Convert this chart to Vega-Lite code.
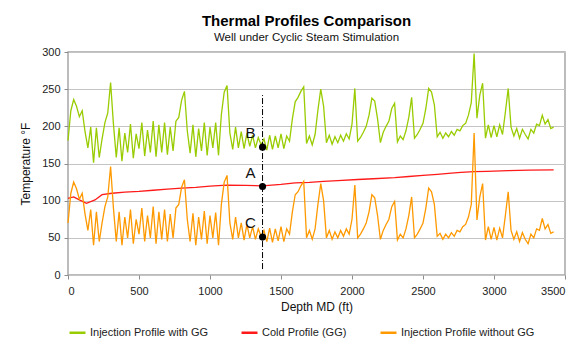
{
  "$schema": "https://vega.github.io/schema/vega-lite/v6.json",
  "width": 497,
  "height": 223,
  "autosize": {"type": "none"},
  "padding": {"left": 68, "top": 52, "right": 20, "bottom": 68},
  "background": "white",
  "title": {
    "text": "Thermal Profiles Comparison",
    "subtitle": "Well under Cyclic Steam Stimulation",
    "fontSize": 15,
    "fontWeight": "bold",
    "font": "Liberation Sans",
    "subtitleFont": "Liberation Sans",
    "subtitleFontSize": 11.5,
    "subtitleColor": "#111",
    "subtitlePadding": 3,
    "color": "#000",
    "anchor": "middle",
    "dx": -10,
    "offset": 3
  },
  "datasets": {
    "lines": [
      {"d":0,"t":181,"s":"G"},{"d":20,"t":221,"s":"G"},{"d":40,"t":236,"s":"G"},{"d":60,"t":227,"s":"G"},{"d":80,"t":213,"s":"G"},{"d":100,"t":221,"s":"G"},{"d":120,"t":193,"s":"G"},{"d":140,"t":171,"s":"G"},{"d":160,"t":199,"s":"G"},{"d":180,"t":151,"s":"G"},{"d":200,"t":198,"s":"G"},{"d":220,"t":158,"s":"G"},{"d":240,"t":183,"s":"G"},{"d":260,"t":205,"s":"G"},{"d":280,"t":218,"s":"G"},{"d":300,"t":259,"s":"G"},{"d":320,"t":203,"s":"G"},{"d":340,"t":158,"s":"G"},{"d":360,"t":198,"s":"G"},{"d":380,"t":153,"s":"G"},{"d":400,"t":191,"s":"G"},{"d":420,"t":165,"s":"G"},{"d":440,"t":203,"s":"G"},{"d":460,"t":157,"s":"G"},{"d":480,"t":190,"s":"G"},{"d":500,"t":170,"s":"G"},{"d":520,"t":205,"s":"G"},{"d":540,"t":160,"s":"G"},{"d":560,"t":195,"s":"G"},{"d":580,"t":165,"s":"G"},{"d":600,"t":207,"s":"G"},{"d":620,"t":159,"s":"G"},{"d":640,"t":202,"s":"G"},{"d":660,"t":165,"s":"G"},{"d":680,"t":205,"s":"G"},{"d":700,"t":162,"s":"G"},{"d":720,"t":199,"s":"G"},{"d":740,"t":167,"s":"G"},{"d":760,"t":207,"s":"G"},{"d":780,"t":212,"s":"G"},{"d":800,"t":235,"s":"G"},{"d":820,"t":247,"s":"G"},{"d":840,"t":194,"s":"G"},{"d":860,"t":164,"s":"G"},{"d":880,"t":202,"s":"G"},{"d":900,"t":159,"s":"G"},{"d":920,"t":197,"s":"G"},{"d":940,"t":167,"s":"G"},{"d":960,"t":205,"s":"G"},{"d":980,"t":161,"s":"G"},{"d":1000,"t":199,"s":"G"},{"d":1020,"t":171,"s":"G"},{"d":1040,"t":205,"s":"G"},{"d":1060,"t":161,"s":"G"},{"d":1080,"t":216,"s":"G"},{"d":1100,"t":246,"s":"G"},{"d":1120,"t":255,"s":"G"},{"d":1140,"t":191,"s":"G"},{"d":1160,"t":169,"s":"G"},{"d":1180,"t":199,"s":"G"},{"d":1200,"t":171,"s":"G"},{"d":1220,"t":193,"s":"G"},{"d":1240,"t":170,"s":"G"},{"d":1260,"t":191,"s":"G"},{"d":1280,"t":173,"s":"G"},{"d":1300,"t":188,"s":"G"},{"d":1320,"t":171,"s":"G"},{"d":1340,"t":185,"s":"G"},{"d":1360,"t":175,"s":"G"},{"d":1380,"t":183,"s":"G"},{"d":1400,"t":168,"s":"G"},{"d":1420,"t":188,"s":"G"},{"d":1440,"t":169,"s":"G"},{"d":1460,"t":187,"s":"G"},{"d":1480,"t":171,"s":"G"},{"d":1500,"t":190,"s":"G"},{"d":1520,"t":170,"s":"G"},{"d":1540,"t":187,"s":"G"},{"d":1560,"t":180,"s":"G"},{"d":1580,"t":210,"s":"G"},{"d":1600,"t":233,"s":"G"},{"d":1620,"t":239,"s":"G"},{"d":1640,"t":247,"s":"G"},{"d":1660,"t":253,"s":"G"},{"d":1680,"t":177,"s":"G"},{"d":1700,"t":187,"s":"G"},{"d":1720,"t":175,"s":"G"},{"d":1740,"t":189,"s":"G"},{"d":1760,"t":222,"s":"G"},{"d":1780,"t":250,"s":"G"},{"d":1800,"t":227,"s":"G"},{"d":1820,"t":178,"s":"G"},{"d":1840,"t":188,"s":"G"},{"d":1860,"t":176,"s":"G"},{"d":1880,"t":186,"s":"G"},{"d":1900,"t":178,"s":"G"},{"d":1920,"t":188,"s":"G"},{"d":1940,"t":180,"s":"G"},{"d":1960,"t":190,"s":"G"},{"d":1980,"t":183,"s":"G"},{"d":2000,"t":203,"s":"G"},{"d":2020,"t":251,"s":"G"},{"d":2040,"t":180,"s":"G"},{"d":2060,"t":185,"s":"G"},{"d":2080,"t":192,"s":"G"},{"d":2100,"t":200,"s":"G"},{"d":2120,"t":215,"s":"G"},{"d":2140,"t":238,"s":"G"},{"d":2160,"t":234,"s":"G"},{"d":2180,"t":210,"s":"G"},{"d":2200,"t":178,"s":"G"},{"d":2220,"t":192,"s":"G"},{"d":2240,"t":200,"s":"G"},{"d":2260,"t":207,"s":"G"},{"d":2280,"t":224,"s":"G"},{"d":2300,"t":231,"s":"G"},{"d":2320,"t":179,"s":"G"},{"d":2340,"t":187,"s":"G"},{"d":2360,"t":182,"s":"G"},{"d":2380,"t":194,"s":"G"},{"d":2400,"t":212,"s":"G"},{"d":2420,"t":239,"s":"G"},{"d":2440,"t":184,"s":"G"},{"d":2460,"t":189,"s":"G"},{"d":2480,"t":196,"s":"G"},{"d":2500,"t":204,"s":"G"},{"d":2520,"t":224,"s":"G"},{"d":2540,"t":251,"s":"G"},{"d":2560,"t":246,"s":"G"},{"d":2580,"t":229,"s":"G"},{"d":2600,"t":186,"s":"G"},{"d":2620,"t":192,"s":"G"},{"d":2640,"t":184,"s":"G"},{"d":2660,"t":191,"s":"G"},{"d":2680,"t":186,"s":"G"},{"d":2700,"t":193,"s":"G"},{"d":2720,"t":188,"s":"G"},{"d":2740,"t":196,"s":"G"},{"d":2760,"t":194,"s":"G"},{"d":2780,"t":201,"s":"G"},{"d":2800,"t":204,"s":"G"},{"d":2820,"t":215,"s":"G"},{"d":2840,"t":232,"s":"G"},{"d":2860,"t":298,"s":"G"},{"d":2880,"t":211,"s":"G"},{"d":2900,"t":242,"s":"G"},{"d":2920,"t":258,"s":"G"},{"d":2940,"t":184,"s":"G"},{"d":2960,"t":202,"s":"G"},{"d":2980,"t":185,"s":"G"},{"d":3000,"t":201,"s":"G"},{"d":3020,"t":186,"s":"G"},{"d":3040,"t":202,"s":"G"},{"d":3060,"t":189,"s":"G"},{"d":3080,"t":219,"s":"G"},{"d":3100,"t":251,"s":"G"},{"d":3120,"t":199,"s":"G"},{"d":3140,"t":187,"s":"G"},{"d":3160,"t":197,"s":"G"},{"d":3180,"t":184,"s":"G"},{"d":3200,"t":196,"s":"G"},{"d":3220,"t":189,"s":"G"},{"d":3240,"t":183,"s":"G"},{"d":3260,"t":196,"s":"G"},{"d":3280,"t":191,"s":"G"},{"d":3300,"t":203,"s":"G"},{"d":3320,"t":201,"s":"G"},{"d":3340,"t":215,"s":"G"},{"d":3360,"t":203,"s":"G"},{"d":3380,"t":209,"s":"G"},{"d":3400,"t":197,"s":"G"},{"d":3420,"t":199,"s":"G"},
      {"d":0,"t":103,"s":"R"},{"d":40,"t":105,"s":"R"},{"d":80,"t":101,"s":"R"},{"d":130,"t":96.5,"s":"R"},{"d":190,"t":101,"s":"R"},{"d":240,"t":108,"s":"R"},{"d":310,"t":110,"s":"R"},{"d":400,"t":111.5,"s":"R"},{"d":500,"t":112.5,"s":"R"},{"d":600,"t":114,"s":"R"},{"d":700,"t":115.5,"s":"R"},{"d":800,"t":117,"s":"R"},{"d":900,"t":118,"s":"R"},{"d":1000,"t":119.5,"s":"R"},{"d":1120,"t":121,"s":"R"},{"d":1250,"t":120.5,"s":"R"},{"d":1370,"t":120,"s":"R"},{"d":1500,"t":122,"s":"R"},{"d":1600,"t":124,"s":"R"},{"d":1700,"t":124.5,"s":"R"},{"d":1800,"t":126,"s":"R"},{"d":1900,"t":127,"s":"R"},{"d":2040,"t":128.5,"s":"R"},{"d":2150,"t":129.5,"s":"R"},{"d":2300,"t":131,"s":"R"},{"d":2400,"t":132.5,"s":"R"},{"d":2500,"t":134,"s":"R"},{"d":2600,"t":135.5,"s":"R"},{"d":2700,"t":137,"s":"R"},{"d":2767,"t":138,"s":"R"},{"d":2860,"t":139,"s":"R"},{"d":2950,"t":139.5,"s":"R"},{"d":3100,"t":140.5,"s":"R"},{"d":3250,"t":141,"s":"R"},{"d":3420,"t":141.3,"s":"R"},
      {"d":0,"t":70,"s":"O"},{"d":20,"t":110,"s":"O"},{"d":40,"t":125,"s":"O"},{"d":60,"t":116,"s":"O"},{"d":80,"t":102,"s":"O"},{"d":100,"t":110,"s":"O"},{"d":120,"t":82,"s":"O"},{"d":140,"t":60,"s":"O"},{"d":160,"t":88,"s":"O"},{"d":180,"t":40,"s":"O"},{"d":200,"t":85,"s":"O"},{"d":220,"t":45,"s":"O"},{"d":240,"t":70,"s":"O"},{"d":260,"t":92,"s":"O"},{"d":280,"t":105,"s":"O"},{"d":300,"t":146,"s":"O"},{"d":320,"t":90,"s":"O"},{"d":340,"t":45,"s":"O"},{"d":360,"t":85,"s":"O"},{"d":380,"t":40,"s":"O"},{"d":400,"t":78,"s":"O"},{"d":420,"t":50,"s":"O"},{"d":440,"t":88,"s":"O"},{"d":460,"t":42,"s":"O"},{"d":480,"t":75,"s":"O"},{"d":500,"t":55,"s":"O"},{"d":520,"t":90,"s":"O"},{"d":540,"t":45,"s":"O"},{"d":560,"t":80,"s":"O"},{"d":580,"t":50,"s":"O"},{"d":600,"t":92,"s":"O"},{"d":620,"t":42,"s":"O"},{"d":640,"t":85,"s":"O"},{"d":660,"t":48,"s":"O"},{"d":680,"t":88,"s":"O"},{"d":700,"t":45,"s":"O"},{"d":720,"t":82,"s":"O"},{"d":740,"t":50,"s":"O"},{"d":760,"t":90,"s":"O"},{"d":780,"t":95,"s":"O"},{"d":800,"t":118,"s":"O"},{"d":820,"t":128,"s":"O"},{"d":840,"t":75,"s":"O"},{"d":860,"t":45,"s":"O"},{"d":880,"t":83,"s":"O"},{"d":900,"t":40,"s":"O"},{"d":920,"t":78,"s":"O"},{"d":940,"t":48,"s":"O"},{"d":960,"t":86,"s":"O"},{"d":980,"t":42,"s":"O"},{"d":1000,"t":80,"s":"O"},{"d":1020,"t":50,"s":"O"},{"d":1040,"t":84,"s":"O"},{"d":1060,"t":40,"s":"O"},{"d":1080,"t":95,"s":"O"},{"d":1100,"t":125,"s":"O"},{"d":1120,"t":134,"s":"O"},{"d":1140,"t":70,"s":"O"},{"d":1160,"t":48,"s":"O"},{"d":1180,"t":78,"s":"O"},{"d":1200,"t":50,"s":"O"},{"d":1220,"t":70,"s":"O"},{"d":1240,"t":47,"s":"O"},{"d":1260,"t":68,"s":"O"},{"d":1280,"t":50,"s":"O"},{"d":1300,"t":65,"s":"O"},{"d":1320,"t":48,"s":"O"},{"d":1340,"t":62,"s":"O"},{"d":1360,"t":52,"s":"O"},{"d":1380,"t":60,"s":"O"},{"d":1400,"t":45,"s":"O"},{"d":1420,"t":63,"s":"O"},{"d":1440,"t":44,"s":"O"},{"d":1460,"t":62,"s":"O"},{"d":1480,"t":46,"s":"O"},{"d":1500,"t":65,"s":"O"},{"d":1520,"t":45,"s":"O"},{"d":1540,"t":62,"s":"O"},{"d":1560,"t":55,"s":"O"},{"d":1580,"t":85,"s":"O"},{"d":1600,"t":108,"s":"O"},{"d":1620,"t":112,"s":"O"},{"d":1640,"t":120,"s":"O"},{"d":1660,"t":126,"s":"O"},{"d":1680,"t":50,"s":"O"},{"d":1700,"t":60,"s":"O"},{"d":1720,"t":48,"s":"O"},{"d":1740,"t":62,"s":"O"},{"d":1760,"t":95,"s":"O"},{"d":1780,"t":123,"s":"O"},{"d":1800,"t":100,"s":"O"},{"d":1820,"t":50,"s":"O"},{"d":1840,"t":60,"s":"O"},{"d":1860,"t":48,"s":"O"},{"d":1880,"t":58,"s":"O"},{"d":1900,"t":50,"s":"O"},{"d":1920,"t":60,"s":"O"},{"d":1940,"t":52,"s":"O"},{"d":1960,"t":62,"s":"O"},{"d":1980,"t":55,"s":"O"},{"d":2000,"t":75,"s":"O"},{"d":2020,"t":121,"s":"O"},{"d":2040,"t":50,"s":"O"},{"d":2060,"t":55,"s":"O"},{"d":2080,"t":62,"s":"O"},{"d":2100,"t":70,"s":"O"},{"d":2120,"t":85,"s":"O"},{"d":2140,"t":108,"s":"O"},{"d":2160,"t":104,"s":"O"},{"d":2180,"t":80,"s":"O"},{"d":2200,"t":48,"s":"O"},{"d":2220,"t":60,"s":"O"},{"d":2240,"t":68,"s":"O"},{"d":2260,"t":75,"s":"O"},{"d":2280,"t":92,"s":"O"},{"d":2300,"t":99,"s":"O"},{"d":2320,"t":47,"s":"O"},{"d":2340,"t":55,"s":"O"},{"d":2360,"t":50,"s":"O"},{"d":2380,"t":62,"s":"O"},{"d":2400,"t":80,"s":"O"},{"d":2420,"t":105,"s":"O"},{"d":2440,"t":50,"s":"O"},{"d":2460,"t":55,"s":"O"},{"d":2480,"t":62,"s":"O"},{"d":2500,"t":70,"s":"O"},{"d":2520,"t":90,"s":"O"},{"d":2540,"t":117,"s":"O"},{"d":2560,"t":112,"s":"O"},{"d":2580,"t":95,"s":"O"},{"d":2600,"t":52,"s":"O"},{"d":2620,"t":56,"s":"O"},{"d":2640,"t":48,"s":"O"},{"d":2660,"t":55,"s":"O"},{"d":2680,"t":50,"s":"O"},{"d":2700,"t":57,"s":"O"},{"d":2720,"t":52,"s":"O"},{"d":2740,"t":60,"s":"O"},{"d":2760,"t":58,"s":"O"},{"d":2780,"t":65,"s":"O"},{"d":2800,"t":68,"s":"O"},{"d":2820,"t":78,"s":"O"},{"d":2840,"t":95,"s":"O"},{"d":2860,"t":191,"s":"O"},{"d":2880,"t":74,"s":"O"},{"d":2900,"t":105,"s":"O"},{"d":2920,"t":123,"s":"O"},{"d":2940,"t":47,"s":"O"},{"d":2960,"t":65,"s":"O"},{"d":2980,"t":48,"s":"O"},{"d":3000,"t":64,"s":"O"},{"d":3020,"t":47,"s":"O"},{"d":3040,"t":63,"s":"O"},{"d":3060,"t":50,"s":"O"},{"d":3080,"t":80,"s":"O"},{"d":3100,"t":112,"s":"O"},{"d":3120,"t":60,"s":"O"},{"d":3140,"t":48,"s":"O"},{"d":3160,"t":58,"s":"O"},{"d":3180,"t":45,"s":"O"},{"d":3200,"t":57,"s":"O"},{"d":3220,"t":48,"s":"O"},{"d":3240,"t":42,"s":"O"},{"d":3260,"t":55,"s":"O"},{"d":3280,"t":50,"s":"O"},{"d":3300,"t":62,"s":"O"},{"d":3320,"t":60,"s":"O"},{"d":3340,"t":76,"s":"O"},{"d":3360,"t":62,"s":"O"},{"d":3380,"t":68,"s":"O"},{"d":3400,"t":56,"s":"O"},{"d":3420,"t":58,"s":"O"}
    ],
    "vline": [{"d": 1370, "t": 8, "t2": 242}],
    "marks": [
      {"d": 1370, "t": 172, "label": "B"},
      {"d": 1370, "t": 119, "label": "A"},
      {"d": 1370, "t": 51, "label": "C"}
    ]
  },
  "encoding": {
    "x": {
      "field": "d", "type": "quantitative", "title": "Depth MD  (ft)",
      "scale": {"domain": [0, 3500], "nice": false},
      "axis": {"values": [0,500,1000,1500,2000,2500,3000,3500], "format": "d", "grid": false, "tickSize": 4, "labelPadding": 6, "titlePadding": 5}
    },
    "y": {
      "field": "t", "type": "quantitative", "title": "Temperature °F",
      "scale": {"domain": [0, 300], "nice": false},
      "axis": {"values": [0,50,100,150,200,250,300], "format": "d", "grid": true, "tickSize": 4, "labelPadding": 4, "titlePadding": 9}
    }
  },
  "layer": [
    {
      "data": {"name": "lines"},
      "mark": {"type": "line", "strokeWidth": 1.3},
      "encoding": {
        "color": {
          "field": "s", "type": "nominal",
          "scale": {"domain": ["G", "R", "O"], "range": ["#99cc00", "#ff1a1a", "#ff9900"]},
          "legend": {
            "orient": "none", "legendX": 0, "legendY": 271,
            "direction": "horizontal", "title": null,
            "symbolType": "stroke", "symbolSize": 256, "symbolStrokeWidth": 2.5,
            "labelFontSize": 11, "labelColor": "#222", "labelOffset": 3, "columnPadding": 28,
            "labelExpr": "datum.label == 'G' ? 'Injection Profile with GG' : datum.label == 'R' ? 'Cold Profile (GG)' : 'Injection Profile without GG'"
          }
        }
      }
    },
    {
      "data": {"name": "vline"},
      "mark": {"type": "rule", "color": "#000", "strokeWidth": 1, "strokeDash": [6, 2, 1, 2]},
      "encoding": {
        "y2": {"field": "t2"}
      }
    },
    {
      "data": {"name": "marks"},
      "mark": {"type": "point", "filled": true, "color": "#000", "opacity": 1, "size": 50}
    },
    {
      "data": {"name": "marks"},
      "mark": {"type": "text", "fontSize": 15, "color": "#111", "dx": -12, "dy": -14, "font": "Liberation Sans"},
      "encoding": {
        "text": {"field": "label"}
      }
    }
  ],
  "config": {
    "font": "Liberation Sans",
    "view": {"stroke": "#a6a6a6", "strokeWidth": 1.5},
    "axis": {
      "domain": false,
      "tickColor": "#8c8c8c",
      "gridColor": "#c4c4c4",
      "gridWidth": 1,
      "labelFont": "Liberation Sans",
      "labelFontSize": 11,
      "labelColor": "#222",
      "titleFont": "Liberation Sans",
      "titleFontSize": 12,
      "titleFontWeight": "normal",
      "titleColor": "#111"
    },
    "legend": {"labelFont": "Liberation Sans"}
  }
}
